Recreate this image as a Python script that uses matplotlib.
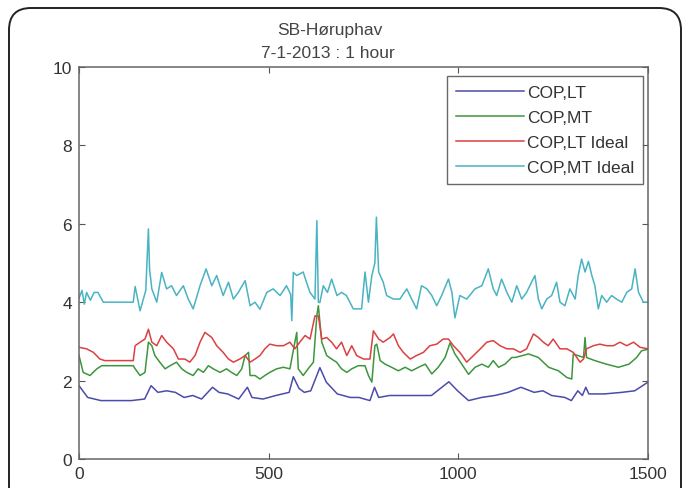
import numpy as np
import matplotlib
matplotlib.use('Agg')
import matplotlib.pyplot as plt
from matplotlib.patches import FancyBboxPatch
from matplotlib.transforms import IdentityTransform

# ---- data (x = sample index, y = COP) ----
x_lt = [0, 23, 58, 138, 173, 190, 208, 231, 254, 277, 300, 323, 352, 369, 392, 421,
        444, 456, 485, 519, 554, 565, 580, 594, 611, 635, 652, 681, 715, 738, 767,
        779, 790, 819, 854, 888, 929, 975, 998, 1027, 1061, 1096, 1131, 1165, 1200,
        1223, 1246, 1281, 1298, 1315, 1327, 1336, 1344, 1385, 1431, 1465, 1500]
cop_lt = [1.87, 1.57, 1.49, 1.49, 1.53, 1.87, 1.70, 1.74, 1.70, 1.57, 1.62, 1.53, 1.83,
          1.70, 1.66, 1.53, 1.83, 1.57, 1.53, 1.62, 1.70, 2.10, 1.80, 1.70, 1.74, 2.33,
          1.96, 1.66, 1.57, 1.57, 1.49, 1.83, 1.57, 1.62, 1.62, 1.62, 1.62, 1.97, 1.74,
          1.49, 1.57, 1.62, 1.70, 1.83, 1.70, 1.74, 1.62, 1.57, 1.49, 1.74, 1.62, 1.83,
          1.66, 1.66, 1.70, 1.74, 1.96]

x_mt = [0, 11, 29, 47, 60, 143, 148, 161, 174, 183, 192, 200, 213, 227, 240, 257, 271,
        284, 301, 314, 328, 341, 354, 372, 389, 402, 416, 429, 438, 447, 451, 464, 477,
        490, 503, 521, 539, 556, 569, 574, 578, 591, 604, 618, 627, 631, 640, 653, 666,
        679, 692, 706, 719, 736, 754, 763, 772, 780, 785, 794, 807, 824, 842, 860, 877,
        895, 913, 930, 947, 965, 978, 991, 1009, 1027, 1044, 1062, 1079, 1092, 1106,
        1123, 1141, 1150, 1185, 1211, 1238, 1264, 1286, 1299, 1303, 1330, 1334, 1338,
        1360, 1390, 1422, 1450, 1470, 1483, 1500]
cop_mt = [2.64, 2.21, 2.13, 2.30, 2.38, 2.38, 2.30, 2.13, 2.21, 2.98, 2.89, 2.64, 2.47,
          2.30, 2.38, 2.47, 2.30, 2.21, 2.13, 2.30, 2.21, 2.38, 2.30, 2.21, 2.30, 2.21,
          2.13, 2.30, 2.64, 2.72, 2.13, 2.13, 2.04, 2.13, 2.21, 2.30, 2.34, 2.30, 2.98,
          3.23, 2.30, 2.13, 2.30, 2.47, 3.66, 3.91, 2.98, 2.64, 2.55, 2.47, 2.30, 2.21,
          2.30, 2.38, 2.38, 2.13, 1.96, 2.89, 2.93, 2.51, 2.42, 2.34, 2.25, 2.34, 2.25,
          2.34, 2.42, 2.17, 2.34, 2.59, 2.96, 2.68, 2.42, 2.16, 2.34, 2.42, 2.34, 2.51,
          2.34, 2.42, 2.59, 2.59, 2.68, 2.59, 2.34, 2.25, 2.08, 2.04, 2.68, 2.59, 3.10,
          2.59, 2.51, 2.42, 2.34, 2.42, 2.59, 2.76, 2.80]

x_lt_ideal = [0, 20, 38, 55, 68, 143, 148, 161, 174, 183, 192, 205, 218, 231, 249, 262,
              279, 292, 306, 319, 332, 350, 363, 380, 394, 407, 424, 438, 451, 464, 477,
              490, 503, 521, 539, 556, 569, 582, 596, 609, 622, 631, 640, 653, 666, 679,
              692, 706, 719, 732, 750, 767, 776, 790, 802, 820, 829, 842, 855, 873, 890,
              908, 925, 943, 960, 974, 987, 1004, 1022, 1040, 1058, 1075, 1092, 1110, 1128,
              1145, 1163, 1180, 1198, 1211, 1224, 1237, 1250, 1268, 1286, 1303, 1321, 1330,
              1338, 1356, 1373, 1391, 1409, 1426, 1444, 1462, 1479, 1500]
cop_lt_ideal = [2.85, 2.81, 2.72, 2.55, 2.51, 2.51, 2.89, 2.98, 3.06, 3.31, 2.98, 2.89,
                3.15, 2.98, 2.81, 2.55, 2.55, 2.47, 2.64, 2.98, 3.23, 3.10, 2.89, 2.72,
                2.55, 2.47, 2.55, 2.64, 2.47, 2.55, 2.64, 2.81, 2.93, 2.89, 2.89, 2.98,
                2.81, 2.98, 3.15, 3.06, 3.65, 3.65, 3.06, 3.10, 2.98, 2.81, 2.98, 2.64,
                2.89, 2.64, 2.55, 2.55, 3.27, 3.06, 2.98, 3.10, 3.19, 2.89, 2.72, 2.55,
                2.64, 2.72, 2.89, 2.93, 3.06, 3.06, 2.89, 2.72, 2.47, 2.64, 2.81, 2.98,
                3.02, 2.89, 2.81, 2.81, 2.72, 2.81, 3.19, 3.10, 2.98, 2.89, 3.06, 2.81,
                2.81, 2.72, 2.47, 2.55, 2.81, 2.89, 2.93, 2.89, 2.89, 2.98, 2.89, 2.98,
                2.85, 2.81]

x_mt_ideal = [0, 8, 14, 20, 30, 40, 50, 64, 143, 148, 161, 176, 183, 186, 192, 205, 218,
              231, 244, 257, 275, 288, 301, 319, 335, 350, 363, 380, 394, 407, 420, 438,
              451, 464, 477, 495, 512, 530, 547, 558, 561, 565, 574, 591, 600, 609, 622,
              627, 631, 635, 644, 655, 666, 680, 692, 705, 723, 745, 754, 763, 772, 780,
              784, 790, 802, 811, 829, 846, 864, 877, 890, 903, 917, 930, 943, 956, 974,
              983, 991, 1004, 1022, 1044, 1062, 1079, 1092, 1101, 1114, 1128, 1141, 1154,
              1167, 1180, 1193, 1202, 1211, 1220, 1233, 1246, 1259, 1268, 1281, 1294, 1308,
              1316, 1325, 1334, 1343, 1352, 1360, 1369, 1378, 1391, 1404, 1417, 1431, 1444,
              1457, 1466, 1475, 1488, 1500]
cop_mt_ideal = [4.10, 4.30, 3.95, 4.25, 4.05, 4.25, 4.25, 4.00, 4.00, 4.40, 3.78, 4.30,
                5.87, 4.85, 4.34, 4.00, 4.76, 4.34, 4.42, 4.17, 4.42, 4.08, 3.83, 4.42,
                4.85, 4.42, 4.68, 4.17, 4.51, 4.08, 4.25, 4.55, 3.91, 4.00, 3.82, 4.25,
                4.34, 4.17, 4.42, 4.20, 3.53, 4.76, 4.68, 4.77, 4.50, 4.25, 4.08, 6.08,
                4.00, 3.99, 4.42, 4.25, 4.59, 4.17, 4.25, 4.17, 3.83, 3.83, 4.77, 4.00,
                4.68, 5.00, 6.17, 4.77, 4.51, 4.17, 4.08, 4.08, 4.34, 4.08, 3.83, 4.42,
                4.34, 4.17, 3.91, 4.17, 4.59, 4.25, 3.60, 4.17, 4.08, 4.34, 4.42, 4.85,
                4.34, 4.17, 4.59, 4.25, 4.00, 4.42, 4.08, 4.25, 4.51, 4.68, 4.08, 3.83,
                4.08, 4.17, 4.51, 4.00, 3.91, 4.34, 4.08, 4.68, 5.10, 4.77, 5.04, 4.68,
                4.42, 3.83, 4.17, 4.00, 4.17, 4.08, 4.00, 4.25, 4.34, 4.85, 4.25, 4.00,
                4.00]

series = [
    (x_lt, cop_lt, 'COP,LT', '#4b4bab'),
    (x_mt, cop_mt, 'COP,MT', '#3d963d'),
    (x_lt_ideal, cop_lt_ideal, 'COP,LT Ideal', '#dc4040'),
    (x_mt_ideal, cop_mt_ideal, 'COP,MT Ideal', '#4ab3c2'),
]

plt.rcParams['font.family'] = ['Liberation Sans', 'DejaVu Sans']

W, H = 686, 489
fig = plt.figure(figsize=(W / 100, H / 100), dpi=100)
ax = fig.add_axes([79 / W, 29 / H, 569 / W, 392 / H])

for xs, ys, lab, col in series:
    ax.plot(xs, ys, color=col, linewidth=1.1, label=lab)

ax.set_xlim(0, 1500)
ax.set_ylim(0, 10)
ax.set_xticks([0, 500, 1000, 1500])
ax.set_yticks([0, 2, 4, 6, 8, 10])
ax.tick_params(direction='in', top=True, right=True, length=4, width=0.8,
               colors='#555555', labelcolor='#333333', labelsize=12.5, pad=5)
for sp in ax.spines.values():
    sp.set_color('#666666')
    sp.set_linewidth(1.1)

# title (sits a bit left of the axes centre in the original)
fig.text(330 / W, 1 - 31 / H, 'SB-Høruphav', fontsize=12.5, color='#444444',
         ha='center', va='center')
fig.text(328 / W, 1 - 53 / H, '7-1-2013 : 1 hour', fontsize=12.5, color='#444444',
         ha='center', va='center')

leg = ax.legend(loc='upper right', bbox_to_anchor=(643 / W, 1 - 77 / H),
                bbox_transform=fig.transFigure, fontsize=12.5, frameon=True,
                fancybox=False, edgecolor='#444444', handlelength=3.9,
                borderpad=0.5, labelspacing=0.58, handletextpad=0.2,
                borderaxespad=0)
leg.get_frame().set_linewidth(1.0)
for t in leg.get_texts():
    t.set_color('#333333')

# rounded outer frame
frame = FancyBboxPatch((9, -20), 672, 500, boxstyle='round,pad=0,rounding_size=22',
                       transform=IdentityTransform(), fill=False,
                       edgecolor='#222222', linewidth=1.4, clip_on=False)
fig.patches.append(frame)

fig.savefig('out.png', dpi=100)
